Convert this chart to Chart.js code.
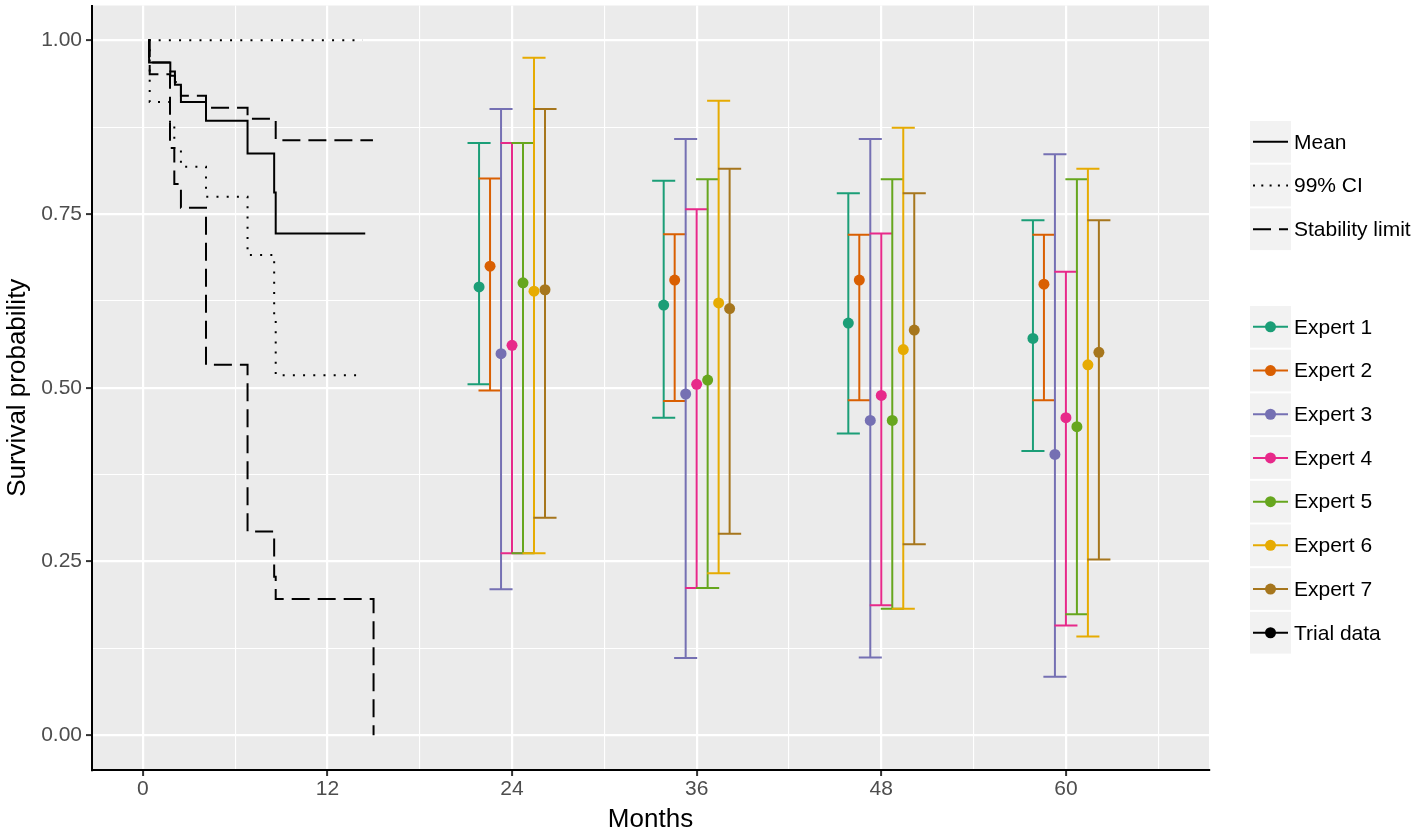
<!DOCTYPE html>
<html>
<head>
<meta charset="utf-8">
<script src="https://cdn.jsdelivr.net/npm/chart.js@4.4.0/dist/chart.umd.min.js"></script>
<style>
html,body{margin:0;padding:0;background:#ffffff;overflow:hidden;}
#wrap{width:1418px;height:835px;position:relative;}
</style>
</head>
<body>
<div id="wrap"><canvas id="c" width="1418" height="835"></canvas></div>
<script>
// ---------------- DATA ----------------
const months = [24, 36, 48, 60];
const expertLabels = ['Expert 1', 'Expert 2', 'Expert 3', 'Expert 4', 'Expert 5', 'Expert 6', 'Expert 7', 'Trial data'];
const lineLegendLabels = ['Mean', '99% CI', 'Stability limit'];

const expert1Mean = [0.645, 0.619, 0.593, 0.571];
const expert1Lo   = [0.505, 0.457, 0.434, 0.409];
const expert1Hi   = [0.852, 0.798, 0.780, 0.741];

const expert2Mean = [0.675, 0.655, 0.655, 0.649];
const expert2Lo   = [0.496, 0.481, 0.482, 0.482];
const expert2Hi   = [0.801, 0.721, 0.720, 0.720];

const expert3Mean = [0.549, 0.491, 0.453, 0.404];
const expert3Lo   = [0.210, 0.111, 0.112, 0.084];
const expert3Hi   = [0.901, 0.858, 0.858, 0.836];

const expert4Mean = [0.561, 0.505, 0.489, 0.457];
const expert4Lo   = [0.262, 0.212, 0.187, 0.158];
const expert4Hi   = [0.852, 0.757, 0.722, 0.667];

const expert5Mean = [0.651, 0.511, 0.453, 0.444];
const expert5Lo   = [0.262, 0.212, 0.182, 0.174];
const expert5Hi   = [0.852, 0.800, 0.800, 0.800];

const expert6Mean = [0.639, 0.622, 0.555, 0.533];
const expert6Lo   = [0.262, 0.233, 0.182, 0.142];
const expert6Hi   = [0.975, 0.913, 0.874, 0.815];

const expert7Mean = [0.641, 0.614, 0.583, 0.551];
const expert7Lo   = [0.313, 0.290, 0.275, 0.253];
const expert7Hi   = [0.901, 0.815, 0.780, 0.741];

// Kaplan-Meier style step curves: time (months) of each step, and the value after it
const meanTimes = [0.37, 0.41, 1.79, 2.09, 2.48, 4.11, 6.81, 8.54, 8.64, 14.46];
const meanSurv  = [1.000, 0.968, 0.949, 0.936, 0.911, 0.884, 0.837, 0.781, 0.722, 0.722];

const ciUpperTimes = [0.37, 14.30];
const ciUpperSurv  = [1.000, 1.000];

const ciLowerTimes = [0.37, 0.45, 1.77, 2.05, 2.48, 4.11, 6.81, 8.54, 8.64, 14.30];
const ciLowerSurv  = [1.000, 0.911, 0.876, 0.843, 0.818, 0.775, 0.691, 0.605, 0.518, 0.518];

const stabUpperTimes = [0.37, 0.41, 1.79, 2.09, 2.48, 4.11, 6.81, 8.64, 14.96];
const stabUpperSurv  = [1.000, 0.968, 0.955, 0.940, 0.920, 0.903, 0.887, 0.856, 0.856];

const stabLowerTimes = [0.37, 0.45, 1.77, 2.05, 2.48, 4.11, 6.81, 8.54, 8.64, 15.00];
const stabLowerSurv  = [1.000, 0.951, 0.845, 0.793, 0.759, 0.533, 0.293, 0.228, 0.196, 0.000];

const xMajorTicks = [0, 12, 24, 36, 48, 60];
const xMinorTicks = [6, 18, 30, 42, 54, 66];
const yMajorTicks = [0, 0.25, 0.5, 0.75, 1.0];
const yMinorTicks = [0.125, 0.375, 0.625, 0.875];

// ---------------- STYLE ----------------
const FONT = "'Liberation Sans', Arial, Helvetica, sans-serif";
const expertColors = ['#1B9E77', '#D95F02', '#7570B3', '#E7298A', '#66A61E', '#E6AB02', '#A6761D', '#000000'];
const DODGE = 5 / 7;     // months between dodged experts
const CAP = 0.75;        // half cap width, months
const DOT = [2, 8.2];
const DASH = [18, 8];

const expertMeans = [expert1Mean, expert2Mean, expert3Mean, expert4Mean, expert5Mean, expert6Mean, expert7Mean];
const expertLos   = [expert1Lo, expert2Lo, expert3Lo, expert4Lo, expert5Lo, expert6Lo, expert7Lo];
const expertHis   = [expert1Hi, expert2Hi, expert3Hi, expert4Hi, expert5Hi, expert6Hi, expert7Hi];

function zip(ts, vs) { return ts.map((t, i) => ({ x: t, y: vs[i] })); }

function errorBarData(lo, hi, idx) {
  const off = (idx - 3) * DODGE;
  const pts = [];
  months.forEach((m, j) => {
    const x = m + off;
    pts.push({ x: x, y: lo[j] }, { x: x, y: hi[j] }, { x: x, y: null });
    pts.push({ x: x - CAP, y: lo[j] }, { x: x + CAP, y: lo[j] }, { x: x, y: null });
    pts.push({ x: x - CAP, y: hi[j] }, { x: x + CAP, y: hi[j] }, { x: x, y: null });
  });
  return pts;
}
function pointData(mean, idx) {
  const off = (idx - 3) * DODGE;
  return months.map((m, j) => ({ x: m + off, y: mean[j] }));
}

const datasets = [];
function kmDataset(label, data, dash) {
  return {
    label: label, data: data, stepped: 'before', borderColor: '#000000', borderWidth: 2,
    borderDash: dash, borderCapStyle: 'butt', pointRadius: 0, fill: false, order: 3
  };
}
datasets.push(kmDataset('Mean', zip(meanTimes, meanSurv), []));
datasets.push(kmDataset('99% CI upper', zip(ciUpperTimes, ciUpperSurv), DOT));
datasets.push(kmDataset('99% CI lower', zip(ciLowerTimes, ciLowerSurv), DOT));
datasets.push(kmDataset('Stability limit upper', zip(stabUpperTimes, stabUpperSurv), DASH));
datasets.push(kmDataset('Stability limit lower', zip(stabLowerTimes, stabLowerSurv), DASH));

for (let i = 0; i < 7; i++) {
  datasets.push({
    label: expertLabels[i] + ' interval', data: errorBarData(expertLos[i], expertHis[i], i),
    borderColor: expertColors[i], borderWidth: 2, pointRadius: 0, spanGaps: false,
    fill: false, borderCapStyle: 'butt', order: 2 + (7 - i) * 0.01
  });
}
for (let i = 0; i < 7; i++) {
  datasets.push({
    label: expertLabels[i], data: pointData(expertMeans[i], i), showLine: false,
    pointRadius: 5.5, pointHoverRadius: 5.5, pointBackgroundColor: expertColors[i],
    pointBorderColor: expertColors[i], pointBorderWidth: 0, order: 1
  });
}

const near = (a, b) => Math.abs(a - b) < 1e-9;
const isXMajor = v => xMajorTicks.some(t => near(t, v));
const isYMajor = v => yMajorTicks.some(t => near(t, v));

const bgPlugin = {
  id: 'panelBg',
  beforeDraw(chart) {
    const ctx = chart.ctx, a = chart.chartArea;
    ctx.save();
    ctx.fillStyle = '#FFFFFF';
    ctx.fillRect(0, 0, chart.width, chart.height);
    ctx.fillStyle = '#EBEBEB';
    ctx.fillRect(a.left, a.top, a.right - a.left, a.bottom - a.top);
    ctx.restore();
  }
};

const legendPlugin = {
  id: 'ggLegend',
  afterDraw(chart) {
    const ctx = chart.ctx;
    const kx = 1250, kw = 41, kh = 41.7, pitch = 43.7;
    ctx.save();
    ctx.font = '21px ' + FONT;
    ctx.textBaseline = 'middle';
    ctx.textAlign = 'left';
    // linetype legend
    const dashes = [[], [2, 6.3], DASH];
    lineLegendLabels.forEach((lab, i) => {
      const top = 121 + i * pitch, cy = top + kh / 2;
      ctx.fillStyle = '#F2F2F2';
      ctx.fillRect(kx, top, kw, kh);
      ctx.strokeStyle = '#000000';
      ctx.lineWidth = 2;
      ctx.lineCap = 'butt';
      ctx.setLineDash(dashes[i]);
      ctx.beginPath();
      ctx.moveTo(kx + 3, cy);
      ctx.lineTo(kx + kw - 3, cy);
      ctx.stroke();
      ctx.setLineDash([]);
      ctx.fillStyle = '#000000';
      ctx.fillText(lab, kx + kw + 3, cy + 1);
    });
    // expert legend
    expertLabels.forEach((lab, i) => {
      const top = 306 + i * pitch, cy = top + kh / 2;
      ctx.fillStyle = '#F2F2F2';
      ctx.fillRect(kx, top, kw, kh);
      ctx.strokeStyle = expertColors[i];
      ctx.lineWidth = 2;
      ctx.beginPath();
      ctx.moveTo(kx + 3, cy);
      ctx.lineTo(kx + kw - 3, cy);
      ctx.stroke();
      ctx.fillStyle = expertColors[i];
      ctx.beginPath();
      ctx.arc(kx + kw / 2, cy, 5.5, 0, Math.PI * 2);
      ctx.fill();
      ctx.fillStyle = '#000000';
      ctx.fillText(lab, kx + kw + 3, cy + 1);
    });
    ctx.restore();
  }
};

Chart.defaults.font.family = FONT;

new Chart(document.getElementById('c'), {
  type: 'line',
  data: { datasets: datasets },
  plugins: [bgPlugin, legendPlugin],
  options: {
    responsive: false, animation: false, devicePixelRatio: 1,
    layout: { padding: { left: 0, right: 209, top: -3, bottom: 0 } },
    plugins: { legend: { display: false }, tooltip: { enabled: false } },
    elements: { line: { tension: 0 } },
    scales: {
      x: {
        type: 'linear', min: -3.3, max: 69.3,
        afterBuildTicks: s => { s.ticks = xMajorTicks.concat(xMinorTicks).sort((a, b) => a - b).map(v => ({ value: v })); },
        afterFit: s => { s.height = 65; s.paddingLeft = 0; s.paddingRight = 0; },
        ticks: {
          autoSkip: false, maxRotation: 0, minRotation: 0, padding: 1, color: '#4D4D4D', font: { size: 21 },
          callback: v => isXMajor(v) ? String(v) : ''
        },
        grid: {
          color: '#FFFFFF',
          lineWidth: c => (c.tick && isXMajor(c.tick.value)) ? 2.2 : 1.1,
          tickColor: c => (c.tick && isXMajor(c.tick.value)) ? '#333333' : 'rgba(0,0,0,0)',
          tickLength: 6, tickWidth: 2, drawTicks: true
        },
        border: { display: true, color: '#000000', width: 2 },
        title: { display: true, text: 'Months', color: '#000000', font: { size: 26 }, padding: { top: 0, bottom: 0 } }
      },
      y: {
        type: 'linear', min: -0.05, max: 1.05,
        afterBuildTicks: s => { s.ticks = yMajorTicks.concat(yMinorTicks).sort((a, b) => a - b).map(v => ({ value: v })); },
        afterFit: s => { s.width = 92; s.paddingTop = 0; s.paddingBottom = 0; },
        ticks: {
          autoSkip: false, padding: 4, color: '#4D4D4D', font: { size: 21 },
          callback: v => isYMajor(v) ? v.toFixed(2) : ''
        },
        grid: {
          color: '#FFFFFF',
          lineWidth: c => (c.tick && isYMajor(c.tick.value)) ? 2.2 : 1.1,
          tickColor: c => (c.tick && isYMajor(c.tick.value)) ? '#333333' : 'rgba(0,0,0,0)',
          tickLength: 6, tickWidth: 2, drawTicks: true
        },
        border: { display: true, color: '#000000', width: 2 },
        title: { display: true, text: 'Survival probability', color: '#000000', font: { size: 26 }, padding: { top: 2, bottom: 0 } }
      }
    }
  }
});
</script>
</body>
</html>
